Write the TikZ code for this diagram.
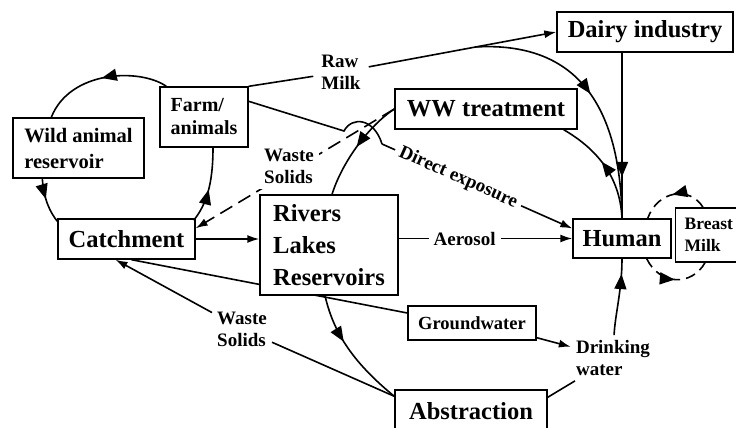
\documentclass[tikz,border=0pt]{standalone}
\usepackage{fontspec}
\setmainfont{Liberation Serif}
\usetikzlibrary{arrows.meta,calc,backgrounds,decorations.markings}
\tikzset{
  box/.style={draw,line width=1.4pt,fill=white,inner sep=0pt,align=center,
    font=\bfseries\fontsize{24.5}{32}\selectfont},
  boxm/.style={box,align=left,font=\bfseries\fontsize{20}{23}\selectfont},
  lbl/.style={inner sep=5pt,align=left,font=\bfseries\fontsize{19}{22}\selectfont},
  conn/.style={line width=1.6pt},
  flow/.style={conn,-{Latex[length=12pt,width=8pt]}},
  midarr/.style={conn,postaction={decorate},decoration={markings,
    mark=at position #1 with {\arrow{Triangle[length=15pt,width=12pt]}}}},
  wsdash/.style={dash pattern=on 14pt off 7pt},
  loopdash/.style={dash pattern=on 10pt off 6pt},
}
\begin{document}
\begin{tikzpicture}[x=1pt,y=-1pt]
  \useasboundingbox (0,0) rectangle (736,428);
  \clip (0,0) rectangle (736,428);
  % boxes
  \node[box,minimum width=176pt,minimum height=40pt] (dairy) at (645,32) {Dairy industry};
  \node[box,minimum width=182pt,minimum height=40pt] (ww) at (486,109) {WW treatment};
  \node[boxm,minimum width=88pt,minimum height=60pt] (farm) at (204,117) {Farm/\\animals};
  \node[boxm,minimum width=131pt,minimum height=60pt,
    font=\bfseries\fontsize{20.5}{26}\selectfont] (wild) at (78.5,148) {Wild animal\\reservoir};
  \node[box,minimum width=137pt,minimum height=40pt] (catch) at (126.5,239) {Catchment};
  \node[box,align=left,minimum width=138pt,minimum height=100pt] (rivers) at (329,245)
    {Rivers\\Lakes\\Reservoirs};
  \node[box,minimum width=98pt,minimum height=39pt] (human) at (622,238.5) {Human};
  \node[box,align=left,anchor=west,text width=52pt,inner xsep=9pt,minimum height=54pt,
    font=\bfseries\fontsize{17.5}{22}\selectfont] (breast) at (675,235) {Breast\\Milk};
  \node[box,minimum width=128pt,minimum height=34pt,
    font=\bfseries\fontsize{18.5}{22}\selectfont] (ground) at (472,323) {Groundwater};
  \node[box,minimum width=152pt,minimum height=42pt] (abstr) at (471,411) {Abstraction};
  % free labels
  \node[lbl,inner sep=8pt] (rawmilk) at (341,72) {Raw\\Milk};
  \node[lbl] (wslow) at (242,329) {Waste\\Solids};
  \node[lbl] (drink) at (613,358) {Drinking\\water};

  % milk route
  \draw[conn] (farm.north east) -- (rawmilk);
  \draw[flow] (rawmilk) -- (dairy.west);
  \coordinate (rmsplit) at (475,47);
  \draw[midarr=0.5] (rmsplit) .. controls (560,42) and (620,85) .. (human.north);
  \draw[midarr=0.75] (dairy.south -| human.north) -- (human.north);
  \draw[midarr=0.55] (human.north) .. controls (620,175) and (595,148) .. ([xshift=-14pt]ww.south east);

  % treatment works
  \draw[midarr=0.5] (ww.west) .. controls (370,125) and (343,160) .. ([xshift=3pt]rivers.north);
  \draw[flow,wsdash] (ww.west) -- node[lbl,fill=white,pos=0.53,yshift=6pt] (wsup) {Waste\\Solids}
    ([yshift=-10pt]catch.north east);

  % direct exposure, hopping over the WW lines
  \coordinate (hopa) at (344,131);
  \coordinate (hopb) at (382,144);
  \draw[conn] ([yshift=-15pt]farm.north east) -- (hopa) .. controls (352,116) and (374,118) .. (hopb);
  \draw[flow] (hopb) -- node[lbl,sloped,fill=white,pos=0.4] (dexp) {Direct exposure}
    ([yshift=10pt]human.west);

  % animal loop
  \draw[midarr=0.5] ([xshift=7pt]farm.north west) .. controls (140,68) and (70,70) .. ([xshift=39pt]wild.north west);
  \draw[midarr=0.45] ([xshift=30pt]wild.south west) .. controls (44,200) and (50,212) .. ([yshift=-3pt]catch.north west);
  \draw[midarr=0.45] ([xshift=-2pt,yshift=-2pt]catch.north east) .. controls (206,205) and (213,185) .. ([xshift=9pt]farm.south);

  % water
  \draw[flow] (catch.east) -- (catch.east -| rivers.west);
  \draw[flow] (rivers.east |- human.west) -- node[lbl,fill=white,pos=0.38] (aerosol) {Aerosol} (human.west);
  \begin{scope}[on background layer]
    \draw[conn] ([xshift=5pt]catch.south) -- ([yshift=10pt]ground.west);
  \end{scope}
  \draw[conn] ([yshift=-7pt]abstr.north west) -- (wslow);
  \draw[flow] (wslow) -- ([xshift=-11pt]catch.south);
  \draw[midarr=0.4] ([xshift=-4pt]rivers.south) .. controls (333,330) and (350,360) .. ([yshift=-7pt]abstr.north west);
  \draw[flow] ([yshift=3pt]ground.south east) -- (drink);
  \draw[conn] ([yshift=-8pt]abstr.north east) -- (drink);
  \draw[midarr=0.8] (drink) .. controls (615,315) and (622,290) .. (human.south);

  % breast milk
  \draw[midarr=0.5,loopdash] ([xshift=28pt]breast.north west) .. controls (690,186) and (658,190) .. ([xshift=-24pt]human.north east);
  \draw[midarr=0.5,loopdash] ([xshift=-25pt]human.south east) .. controls (660,286) and (692,286) .. ([xshift=30pt]breast.south west);
\end{tikzpicture}
\end{document}
